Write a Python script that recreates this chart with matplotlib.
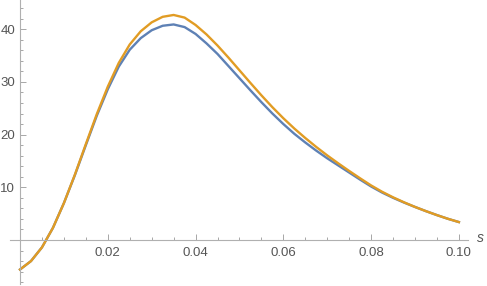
import numpy as np
import matplotlib.pyplot as plt
from matplotlib.ticker import FixedLocator

# values
s = [0.0, 0.0025, 0.005, 0.0075, 0.01, 0.0125, 0.015, 0.0175, 0.02, 0.0225,
     0.025, 0.0275, 0.03, 0.0325, 0.035, 0.0375, 0.04, 0.0425, 0.045, 0.0475,
     0.05, 0.0525, 0.055, 0.0575, 0.06, 0.0625, 0.065, 0.0675, 0.07, 0.0725,
     0.075, 0.0775, 0.08, 0.0825, 0.085, 0.0875, 0.09, 0.0925, 0.095, 0.0975, 0.1]
orange = [-5.6, -4.0, -1.4, 2.3, 7.0, 12.4, 18.2, 23.9, 29.1, 33.6,
          37.1, 39.6, 41.3, 42.35, 42.7, 42.2, 40.8, 39.0, 36.9, 34.6,
          32.2, 29.8, 27.45, 25.2, 23.1, 21.15, 19.35, 17.65, 16.05, 14.55,
          13.1, 11.7, 10.35, 9.15, 8.1, 7.15, 6.27, 5.47, 4.72, 4.02, 3.4]
blue = [-5.6, -4.0, -1.4, 2.3, 7.0, 12.3, 18.0, 23.6, 28.6, 32.9,
        36.1, 38.3, 39.8, 40.65, 40.9, 40.4, 39.1, 37.3, 35.3, 33.0,
        30.7, 28.4, 26.15, 24.0, 22.0, 20.15, 18.5, 16.95, 15.5, 14.15,
        12.8, 11.45, 10.15, 9.0, 8.0, 7.1, 6.27, 5.47, 4.72, 4.02, 3.4]
xticks = [0.02, 0.04, 0.06, 0.08, 0.10]
xlabels = ['0.02', '0.04', '0.06', '0.08', '0.10']
yticks = [10, 20, 30, 40]

plt.rcParams['font.family'] = ['Liberation Sans', 'DejaVu Sans']
grey = '#999999'
txt = '#555555'

fig = plt.figure(figsize=(4.87, 2.86), dpi=100)
ax = fig.add_axes([0, 0, 1, 1])
ax.plot(s, blue, color='#5E81B5', lw=1.7, solid_joinstyle='round')
ax.plot(s, orange, color='#E19C24', lw=1.7, solid_joinstyle='round')

ax.set_xlim(-0.00456, 0.1064)
ax.set_ylim(-8.73, 45.54)
for side in ['top', 'right']:
    ax.spines[side].set_visible(False)
ax.spines['left'].set_position(('data', 0))
ax.spines['bottom'].set_position(('data', 0))
ax.spines['bottom'].set_bounds(-0.0023, 0.102)
ax.spines['left'].set_bounds(-8.4, 45.54)
for side in ['left', 'bottom']:
    ax.spines[side].set_color('#b0b0b0')
    ax.spines[side].set_linewidth(0.8)
ax.patch.set_visible(False)

ax.set_xticks(xticks)
ax.set_xticklabels(xlabels)
ax.xaxis.set_minor_locator(FixedLocator([v / 1000 for v in range(5, 101, 5) if v % 20]))
ax.set_yticks(yticks)
ax.yaxis.set_minor_locator(FixedLocator([v for v in range(-8, 46, 2) if v % 10]))
ax.tick_params(which='both', direction='in', color=grey, width=0.6,
               labelcolor=txt, labelsize=9.5)
ax.tick_params(which='major', length=4)
ax.tick_params(which='minor', length=2.5)
ax.tick_params(axis='x', pad=5)
ax.tick_params(axis='y', pad=3.5)

ax.text(0.1042, 0.3, 's', fontstyle='italic', color=txt, fontsize=10,
        ha='left', va='center')

fig.savefig('out.png', dpi=100)
